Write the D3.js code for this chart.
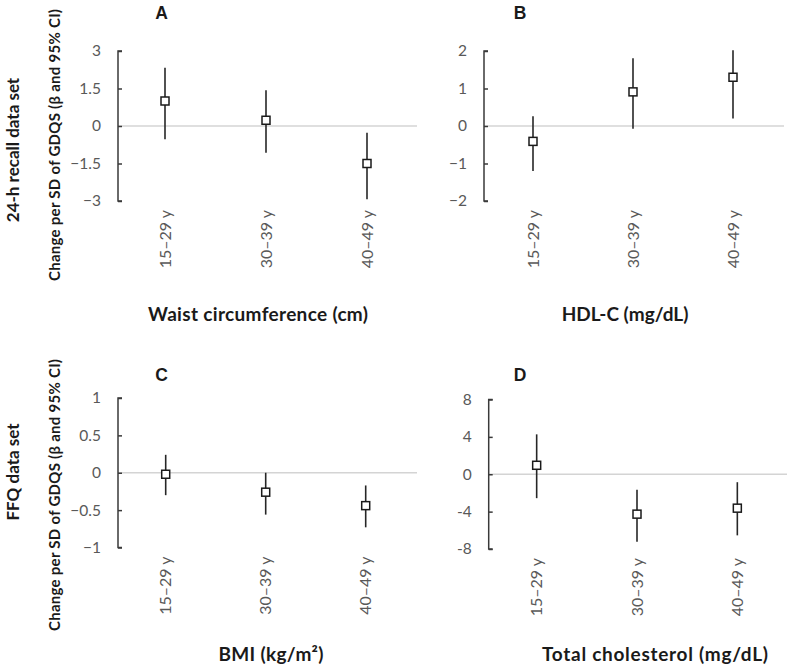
<!DOCTYPE html>
<html>
<head>
<meta charset="utf-8">
<script src="https://cdn.jsdelivr.net/npm/d3@7"></script>
<style>
  html, body { margin: 0; padding: 0; background: #fff; }
  svg { display: block; }
</style>
</head>
<body>
<svg id="chart" width="789" height="665"></svg>
<script>
// ---------- data ----------
const categories = ["15–29 y", "30–39 y", "40–49 y"];
const panelLetters = ["A", "B", "C", "D"];
const outcomeTitles = ["Waist circumference (cm)", "HDL-C (mg/dL)", "BMI (kg/m²)", "Total cholesterol (mg/dL)"];
const rowTitles = ["24-h recall data set", "FFQ data set"];
const yAxisTitle = "Change per SD of GDQS (β and 95% CI)";

const waistBeta  = [1.0, 0.23, -1.5];
const waistLower = [-0.53, -1.07, -2.93];
const waistUpper = [2.33, 1.43, -0.27];

const hdlBeta  = [-0.41, 0.91, 1.3];
const hdlLower = [-1.2, -0.07, 0.2];
const hdlUpper = [0.26, 1.81, 2.02];

const bmiBeta  = [-0.02, -0.26, -0.44];
const bmiLower = [-0.3, -0.56, -0.73];
const bmiUpper = [0.24, 0.0, -0.17];

const tcBeta  = [0.96, -4.27, -3.63];
const tcLower = [-2.56, -7.22, -6.54];
const tcUpper = [4.27, -1.67, -0.85];

const waistTicks = [-3, -1.5, 0, 1.5, 3];
const waistTickLabels = ["−3", "−1.5", "0", "1.5", "3"];
const hdlTicks = [-2, -1, 0, 1, 2];
const hdlTickLabels = ["−2", "−1", "0", "1", "2"];
const bmiTicks = [-1, -0.5, 0, 0.5, 1];
const bmiTickLabels = ["−1", "−0.5", "0", "0.5", "1"];
const tcTicks = [-8, -4, 0, 4, 8];
const tcTickLabels = ["-8", "-4", "0", "4", "8"];

// ---------- layout ----------
const FONT = "Lato, 'Open Sans', sans-serif";
const panels = [
  { beta: waistBeta, lo: waistLower, hi: waistUpper, ticks: waistTicks, labels: waistTickLabels,
    axisX: 118, yTop: 51, yBot: 201, xr: [114.5, 417.5], zeroEnd: 417,
    letterX: 161.5, letterY: 18.5, titleX: 258, titleY: 321, titleW: 220 },
  { beta: hdlBeta, lo: hdlLower, hi: hdlUpper, ticks: hdlTicks, labels: hdlTickLabels,
    axisX: 484, yTop: 51, yBot: 201, xr: [483, 783], zeroEnd: 784,
    letterX: 520, letterY: 18.5, titleX: 625, titleY: 321, titleW: 126 },
  { beta: bmiBeta, lo: bmiLower, hi: bmiUpper, ticks: bmiTicks, labels: bmiTickLabels,
    axisX: 118, yTop: 398, yBot: 547.5, xr: [115.7, 415.7], zeroEnd: 417,
    letterX: 161.5, letterY: 380.5, titleX: 271, titleY: 661, titleW: 105 },
  { beta: tcBeta, lo: tcLower, hi: tcUpper, ticks: tcTicks, labels: tcTickLabels,
    axisX: 488.7, yTop: 399.5, yBot: 549, xr: [486.5, 787.5], zeroEnd: 787,
    letterX: 520, letterY: 381, titleX: 655, titleY: 661, titleW: 226 }
];

const svg = d3.select("#chart").attr("font-family", FONT);

function fit(sel, target) {
  const n = sel.node();
  const w = n.getComputedTextLength();
  if (Math.abs(w - target) > 1) {
    sel.attr("textLength", target).attr("lengthAdjust", "spacing");
  }
}

panels.forEach((p, i) => {
  const g = svg.append("g");
  const y = d3.scaleLinear().domain([p.ticks[0], p.ticks[p.ticks.length - 1]]).range([p.yBot, p.yTop]);
  const x = d3.scaleBand().domain(categories).range(p.xr);

  // zero line
  g.append("line")
    .attr("x1", p.axisX).attr("x2", p.zeroEnd)
    .attr("y1", y(0)).attr("y2", y(0))
    .attr("stroke", "#d4d4d4").attr("stroke-width", 1.5);

  // y axis
  const axis = d3.axisRight(y).tickValues(p.ticks).tickSize(4).tickFormat("");
  const ax = g.append("g").attr("transform", `translate(${p.axisX},0)`).call(axis);
  ax.select(".domain").attr("d", `M4,${p.yTop}H0V${p.yBot}H4`).attr("stroke", "#3a3a3a").attr("stroke-width", 1.5);
  ax.selectAll(".tick line").attr("stroke", "#3a3a3a").attr("stroke-width", 1.5);

  // tick labels
  g.selectAll("text.tl").data(p.ticks).enter().append("text")
    .attr("class", "tl")
    .attr("x", p.axisX - 17)
    .attr("y", d => y(d))
    .attr("dy", "0.35em")
    .attr("text-anchor", "end")
    .attr("fill", "#595959")
    .attr("font-size", 15.5)
    .text((d, j) => p.labels[j]);

  // category labels
  g.selectAll("text.cl").data(categories).enter().append("text")
    .attr("class", "cl")
    .attr("transform", d => `translate(${x(d) + x.bandwidth() / 2},${p.yBot + 9}) rotate(-90)`)
    .attr("text-anchor", "end")
    .attr("dy", "0.35em")
    .attr("fill", "#595959")
    .attr("font-size", 16)
    .text(d => d);

  // error bars
  g.selectAll("line.ci").data(categories).enter().append("line")
    .attr("x1", d => x(d) + x.bandwidth() / 2)
    .attr("x2", d => x(d) + x.bandwidth() / 2)
    .attr("y1", (d, j) => y(p.hi[j]))
    .attr("y2", (d, j) => y(p.lo[j]))
    .attr("stroke", "#262626").attr("stroke-width", 1.6);

  // markers
  const s = 8;
  g.selectAll("rect.pt").data(categories).enter().append("rect")
    .attr("x", d => x(d) + x.bandwidth() / 2 - s / 2)
    .attr("y", (d, j) => y(p.beta[j]) - s / 2)
    .attr("width", s).attr("height", s)
    .attr("fill", "#fff").attr("stroke", "#1a1a1a").attr("stroke-width", 1.5);

  // panel letter
  g.append("text")
    .attr("x", p.letterX).attr("y", p.letterY)
    .attr("text-anchor", "middle")
    .attr("font-family", "'Liberation Sans', Arial, sans-serif")
    .attr("font-weight", "bold").attr("font-size", 17.5)
    .attr("fill", "#1a1a1a")
    .text(panelLetters[i]);

  // outcome title
  const t = g.append("text")
    .attr("x", p.titleX).attr("y", p.titleY)
    .attr("text-anchor", "middle")
    .attr("font-weight", "bold").attr("font-size", 19)
    .attr("fill", "#1a1a1a")
    .text(outcomeTitles[i]);
  fit(t, p.titleW);
});

// row titles
const rowCenters = [150, 472];
const ySubCenters = [145, 495];
rowTitles.forEach((t, r) => {
  svg.append("text")
    .attr("transform", `translate(13,${rowCenters[r]}) rotate(-90)`)
    .attr("text-anchor", "middle").attr("dy", "0.35em")
    .attr("font-weight", "bold").attr("font-size", 17)
    .attr("fill", "#1a1a1a")
    .text(t);
  const s = svg.append("text")
    .attr("transform", `translate(55,${ySubCenters[r]}) rotate(-90)`)
    .attr("text-anchor", "middle").attr("dy", "0.35em")
    .attr("font-weight", "bold").attr("font-size", 15)
    .attr("fill", "#1a1a1a")
    .text(yAxisTitle);
  fit(s, 272);
});
</script>
</body>
</html>
